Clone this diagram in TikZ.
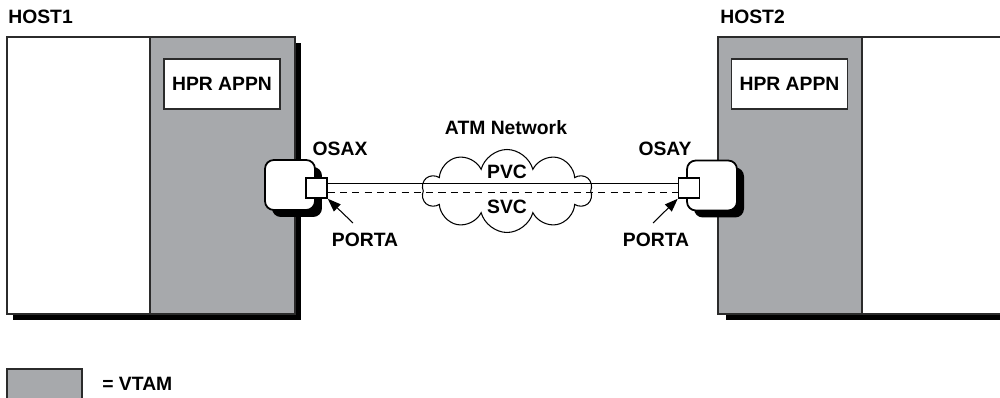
\documentclass[tikz,border=0pt]{standalone}
\usepackage{fontspec}
\setmainfont{Liberation Sans}
\usetikzlibrary{shapes.symbols, shadows, arrows.meta}
\definecolor{vtamgray}{HTML}{A7A9AC}
\definecolor{edgegray}{HTML}{2B2B2B}

\begin{document}
\begin{tikzpicture}[x=0.02cm, y=-0.02cm,
    lbl/.style={font=\fontsize{11}{13}\selectfont\bfseries, inner sep=0pt},
    appn/.style={draw=edgegray, line width=0.8pt, fill=white, minimum width=2.32cm,
      minimum height=1cm, inner sep=0pt, font=\fontsize{11}{13}\selectfont\bfseries},
    adapter/.style={draw=black, line width=1pt, fill=white, rounded corners=5pt,
      minimum size=1cm, inner sep=0pt,
      drop shadow={shadow xshift=0.14cm, shadow yshift=-0.14cm, opacity=1, fill=black}},
    port/.style={draw=black, line width=0.9pt, fill=white, minimum width=0.42cm,
      minimum height=0.4cm, inner sep=0pt},
    hostedge/.style={draw=edgegray, line width=0.6pt}]
    \useasboundingbox (0,0) rectangle (1000,398);

    % host 1
    \fill [black] (13,43) rectangle (301,320);
    \draw [hostedge, fill=white] (7,37) rectangle (150,314);
    \draw [hostedge, fill=vtamgray] (150,37) rectangle (295,314);
    \node [lbl, anchor=west] (host1) at (8,17) {HOST1};
    \node [appn] (appn1) at (222,84) {HPR APPN};

    % host 2
    \fill [black] (726,43) rectangle (1012,320);
    \draw [hostedge, fill=vtamgray] (718,37) rectangle (862,314);
    \draw [hostedge, fill=white] (862,37) rectangle (1010,314);
    \node [lbl, anchor=west] (host2) at (720,17) {HOST2};
    \node [appn] (appn2) at (789.5,84) {HPR APPN};

    % adapters and ports
    \node [adapter] (osax) at (290,185) {};
    \node [adapter] (osay) at (712,185.5) {};
    \node [port] (portx) at (316.5,188) {};
    \node [port] (porty) at (689,188) {};
    \node [lbl] (osaxlbl) at (340,149) {OSAX};
    \node [lbl] (osaylbl) at (665,149) {OSAY};

    % ATM network
    \node [cloud, draw=black, line width=0.6pt, fill=white, cloud puffs=10, aspect=2,
      minimum width=3.4cm, minimum height=1.66cm, inner sep=0pt] (atm) at (507,191) {};
    \node [lbl] (atmlbl) at (506,128) {ATM Network};
    \draw [line width=0.6pt] ([yshift=2.6pt]portx.east) -- ([yshift=2.6pt]porty.west);
    \draw [line width=0.6pt, dashed, dash pattern=on 4pt off 3pt]
      ([yshift=-2.6pt]portx.east) -- ([yshift=-2.6pt]porty.west);
    \node [lbl] (pvc) at (507,172) {PVC};
    \node [lbl] (svc) at (507,207) {SVC};

    % port labels
    \node [lbl] (portalx) at (365,240) {PORTA};
    \node [lbl] (portaly) at (656,240) {PORTA};
    \coordinate (tailx) at (353,223);
    \coordinate (taily) at (653,223);
    \draw [-{Triangle[length=7.5pt,width=5.5pt]}, line width=0.6pt] (tailx) -- (portx.south east);
    \draw [-{Triangle[length=7.5pt,width=5.5pt]}, line width=0.6pt] (taily) -- (porty.south west);

    % legend
    \draw [hostedge, fill=vtamgray] (7,369) rectangle (82,405);
    \node [lbl, anchor=west] (vtam) at (102,384) {= VTAM};
\end{tikzpicture}
\end{document}
